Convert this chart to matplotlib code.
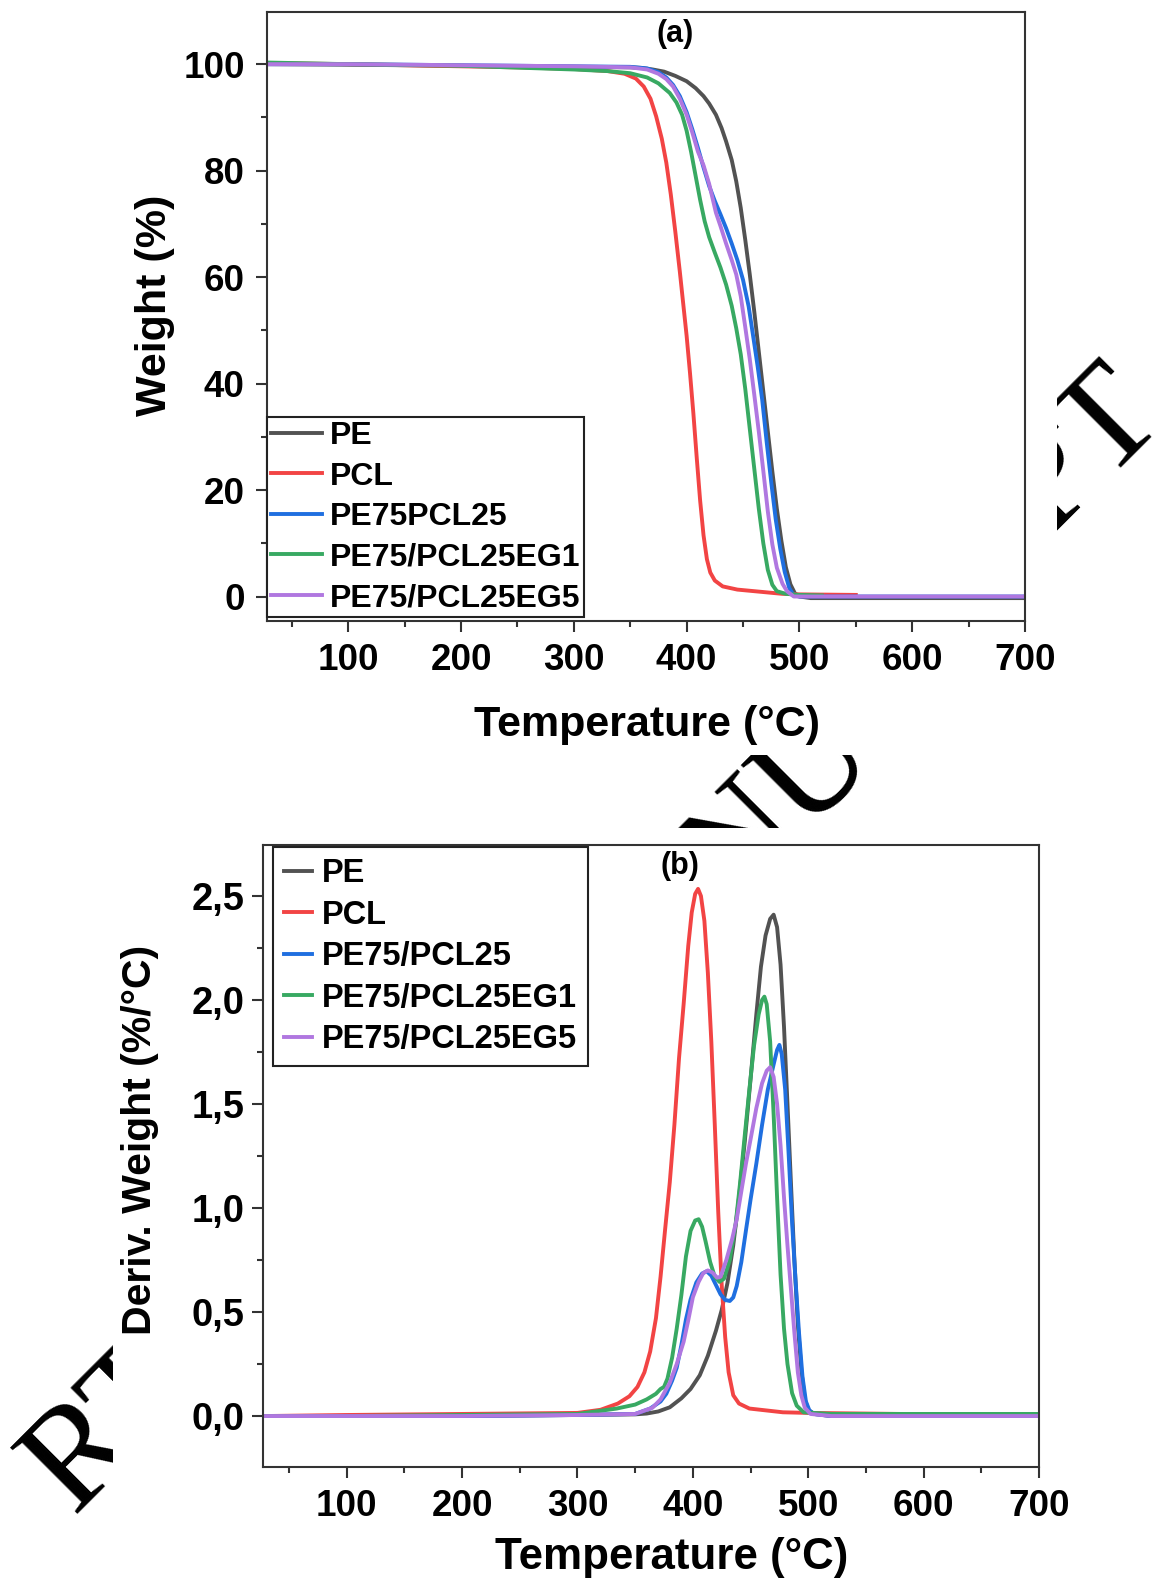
import matplotlib
matplotlib.use('Agg')
import matplotlib.pyplot as plt
from matplotlib.patches import Rectangle
from matplotlib.ticker import MultipleLocator, FuncFormatter

plt.rcParams['font.family'] = ['Liberation Sans', 'DejaVu Sans']
plt.rcParams['font.weight'] = 'bold'
plt.rcParams['axes.labelweight'] = 'bold'

# ---- legend labels / colours
labels_a = ['PE', 'PCL', 'PE75PCL25', 'PE75/PCL25EG1', 'PE75/PCL25EG5']
labels_b = ['PE', 'PCL', 'PE75/PCL25', 'PE75/PCL25EG1', 'PE75/PCL25EG5']
colors = ['#525252', '#f24444', '#1f6fe0', '#38a962', '#b077e0']

# ---- (a) TGA : weight (%) vs temperature (°C)
t_pe = [30, 100, 200, 300, 350, 360, 370, 380, 390, 400, 408, 415, 420, 426, 431, 435, 440, 444, 448,
        452, 456, 460, 464, 468, 472, 476, 480, 484, 488, 492, 496, 500, 510, 600, 700]
w_pe = [100.0, 99.9, 99.7, 99.5, 99.4, 99.3, 99.0, 98.6, 97.8, 96.8, 95.5, 94.0, 92.6, 90.5, 88.0, 85.5,
        82.0, 78.0, 73.0, 67.0, 60.5, 53.5, 46.0, 38.5, 31.0, 23.5, 16.5, 10.5, 5.5, 2.3, 0.6, 0.0, -0.3,
        -0.3, -0.3]

t_pcl = [30, 100, 200, 250, 300, 330, 345, 355, 362, 368, 373, 378, 382, 386, 390, 394, 397, 400, 403,
         406, 409, 412, 415, 418, 421, 425, 432, 445, 460, 485, 500, 550]
w_pcl = [100.2, 100.0, 99.6, 99.4, 99.1, 98.7, 98.2, 97.3, 95.8, 93.5, 90.2, 86.0, 81.5, 75.5, 68.5, 61.0,
         55.0, 49.0, 42.0, 34.4, 26.0, 18.0, 11.5, 7.0, 4.5, 3.0, 1.9, 1.3, 1.0, 0.5, 0.4, 0.3]

t_blend = [30, 100, 200, 300, 350, 365, 375, 382, 388, 394, 400, 405, 410, 415, 420, 425, 430, 435, 440,
           445, 450, 455, 459, 463, 467, 471, 475, 479, 483, 487, 491, 495, 500, 600, 700]
w_blend = [100.0, 100.0, 99.8, 99.6, 99.5, 99.2, 98.5, 97.5, 96.1, 94.0, 91.0, 87.8, 84.3, 80.6, 77.1,
           74.3, 71.8, 69.2, 66.3, 63.2, 59.5, 54.5, 48.9, 43.2, 37.0, 29.0, 21.5, 14.5, 9.0, 4.6, 1.6,
           0.2, 0.0, 0.0, 0.0]

t_eg1 = [30, 100, 200, 300, 330, 350, 365, 375, 385, 391, 396, 400, 404, 408, 412, 416, 420, 425, 430,
         435, 440, 444, 448, 452, 456, 460, 464, 468, 472, 476, 480, 488, 500, 520]
w_eg1 = [100.3, 100.0, 99.7, 99.0, 98.7, 98.3, 97.5, 96.4, 94.6, 92.8, 90.5, 87.5, 83.5, 79.0, 74.5, 70.5,
         67.5, 64.6, 61.8, 58.6, 54.6, 50.4, 45.5, 39.0, 31.5, 24.0, 16.5, 10.0, 5.0, 2.2, 1.0, 0.5, 0.3,
         0.2]

t_eg5 = [30, 100, 200, 300, 350, 365, 375, 382, 388, 394, 400, 405, 410, 415, 420, 426, 430, 435, 440,
         444, 448, 452, 456, 460, 464, 468, 472, 476, 480, 485, 489, 495, 520, 600, 700]
w_eg5 = [100.0, 100.0, 99.8, 99.6, 99.4, 99.0, 98.2, 97.2, 95.8, 93.5, 90.5, 87.2, 83.6, 81.0, 77.5, 72.1,
         69.6, 66.3, 63.2, 60.5, 56.4, 50.6, 44.6, 37.9, 31.0, 23.6, 16.0, 9.8, 5.4, 2.4, 1.0, 0.0, 0.0,
         0.0, 0.0]

# ---- (b) DTG : deriv. weight (%/°C) vs temperature (°C)
td_pe = [30, 100, 200, 300, 350, 360, 370, 380, 390, 398, 406, 413, 420, 425, 430, 435, 440, 445, 450,
         455, 459, 463, 467, 470, 473, 476, 479, 482, 485, 488, 491, 494, 497, 500, 505, 520, 600, 700]
d_pe = [0.0, 0.0, 0.0, 0.005, 0.008, 0.012, 0.022, 0.042, 0.085, 0.13, 0.196, 0.29, 0.41, 0.51, 0.64,
        0.82, 1.05, 1.32, 1.62, 1.93, 2.16, 2.31, 2.39, 2.41, 2.35, 2.17, 1.87, 1.50, 1.12, 0.75, 0.44,
        0.22, 0.08, 0.03, 0.01, 0.0, 0.0, 0.0]

td_pcl = [30, 100, 200, 300, 320, 335, 345, 352, 358, 363, 368, 372, 376, 380, 384, 388, 392, 396, 399,
          402, 404.5, 407, 410, 413, 416, 419, 422, 425, 428, 431, 435, 440, 449, 478, 500, 580]
d_pcl = [0.0, 0.005, 0.01, 0.015, 0.03, 0.06, 0.095, 0.14, 0.21, 0.31, 0.47, 0.67, 0.90, 1.124, 1.40,
         1.72, 1.98, 2.26, 2.42, 2.51, 2.534, 2.50, 2.38, 2.13, 1.80, 1.40, 0.98, 0.63, 0.38, 0.21, 0.10,
         0.06, 0.036, 0.018, 0.015, 0.01]

td_blend = [30, 100, 200, 300, 350, 363, 372, 377, 382, 386, 390, 394, 398, 403, 408, 412, 416, 420, 424,
            428, 432, 435, 438, 442, 446, 450, 455, 460, 465, 470, 473, 475, 477, 480, 483, 486, 489, 492,
            495, 498, 501, 505, 520, 600, 700]
d_blend = [0.0, 0.0, 0.0, 0.005, 0.01, 0.036, 0.07, 0.107, 0.17, 0.232, 0.34, 0.464, 0.56, 0.642, 0.685,
           0.696, 0.675, 0.63, 0.585, 0.558, 0.553, 0.57, 0.625, 0.74, 0.892, 1.04, 1.213, 1.40, 1.57, 1.69,
           1.76, 1.784, 1.74, 1.57, 1.26, 0.93, 0.65, 0.40, 0.19, 0.07, 0.027, 0.01, 0.0, 0.0, 0.0]

td_eg1 = [30, 100, 200, 300, 334, 350, 360, 368, 372, 375, 378, 382, 386, 390, 394, 398, 402, 405, 408,
          411, 415, 419, 423, 427, 432, 437, 441, 445, 449, 453, 457, 460, 462, 464, 467, 470, 473, 476,
          479, 482, 486, 490, 496, 520, 700]
d_eg1 = [0.0, 0.0, 0.005, 0.01, 0.036, 0.055, 0.08, 0.107, 0.13, 0.14, 0.18, 0.28, 0.42, 0.58, 0.767, 0.89,
         0.94, 0.946, 0.91, 0.84, 0.74, 0.67, 0.645, 0.66, 0.75, 0.92, 1.124, 1.35, 1.57, 1.78, 1.93, 2.00,
         2.016, 1.98, 1.80, 1.45, 1.05, 0.68, 0.42, 0.25, 0.11, 0.05, 0.018, 0.01, 0.01]

td_eg5 = [30, 100, 200, 300, 350, 365, 372, 380, 386, 392, 396, 400, 405, 409, 413, 417, 421, 424, 429,
          434, 438, 442, 446, 450, 455, 460, 464, 467, 470, 473, 476, 479, 482, 485, 488, 491, 494, 497,
          502, 520, 600, 700]
d_eg5 = [0.0, 0.0, 0.0, 0.005, 0.01, 0.04, 0.08, 0.16, 0.25, 0.357, 0.46, 0.571, 0.645, 0.687, 0.70, 0.69,
         0.665, 0.67, 0.75, 0.85, 0.946, 1.08, 1.213, 1.33, 1.48, 1.60, 1.66, 1.677, 1.63, 1.50, 1.30, 1.05,
         0.82, 0.61, 0.40, 0.21, 0.10, 0.04, 0.01, 0.0, 0.0, 0.0]

W, H = 1160, 1595


def px_box(x0, y0, x1, y1):
    """pixel box (top-left origin) -> figure fraction [l, b, w, h]"""
    return [x0 / W, 1 - y1 / H, (x1 - x0) / W, (y1 - y0) / H]


fig = plt.figure(figsize=(W / 100, H / 100), dpi=100)

# watermark pieces, mostly hidden behind the two white panel images
for txt, (cx, cy) in [('RT', (110, 1427)), ('NU', (782, 806)), ('PT', (1083, 452))]:
    fig.text(cx / W, 1 - cy / H, txt, rotation=45, ha='center', va='center',
             fontsize=104, family='Liberation Serif', fontweight='normal', zorder=-2)
for box in [(0, 0, 1057, 755), (113, 828, 1160, 1595)]:
    l, b, w, h = px_box(*box)
    fig.add_artist(Rectangle((l, b), w, h, transform=fig.transFigure,
                             facecolor='white', edgecolor='none', zorder=-1))

ax1 = fig.add_axes(px_box(267, 12, 1025, 621))
ax2 = fig.add_axes(px_box(262.5, 845, 1039, 1467))

series_a = [(t_pe, w_pe), (t_pcl, w_pcl), (t_blend, w_blend), (t_eg1, w_eg1), (t_eg5, w_eg5)]
series_b = [(td_pe, d_pe), (td_pcl, d_pcl), (td_blend, d_blend), (td_eg1, d_eg1), (td_eg5, d_eg5)]

for (x, y), c, lab in zip(series_a, colors, labels_a):
    ax1.plot(x, y, color=c, lw=2.8, label=lab)
for (x, y), c, lab in zip(series_b, colors, labels_b):
    ax2.plot(x, y, color=c, lw=2.8, label=lab)

ax1.set_xlim(28, 700)
ax1.set_ylim(-4.6, 109.8)
ax2.set_xlim(27, 700)
ax2.set_ylim(-0.245, 2.745)

for ax in (ax1, ax2):
    ax.set_facecolor('white')
    ax.xaxis.set_major_locator(MultipleLocator(100))
    ax.xaxis.set_minor_locator(MultipleLocator(50))
    for s in ax.spines.values():
        s.set_linewidth(1.5)
        s.set_color('#333333')
    ax.tick_params(which='both', direction='out', width=1.5, color='#333333',
                   top=False, right=False, labelsize=26.5)
    ax.tick_params(which='major', length=8)
    ax.tick_params(which='minor', length=4.5)

ax1.yaxis.set_major_locator(MultipleLocator(20))
ax1.yaxis.set_minor_locator(MultipleLocator(10))
ax2.yaxis.set_major_locator(MultipleLocator(0.5))
ax2.yaxis.set_minor_locator(MultipleLocator(0.25))
ax2.yaxis.set_major_formatter(FuncFormatter(lambda v, p: f'{v:.1f}'.replace('.', ',')))

ax1.tick_params(axis='y', pad=8)
ax1.tick_params(axis='x', pad=8)
ax2.tick_params(axis='y', pad=5, labelsize=27.5)
ax2.tick_params(axis='x', pad=8)

ax1.set_xlabel('Temperature (°C)', fontsize=31)
ax1.set_ylabel('Weight (%)', fontsize=31)
ax2.set_xlabel('Temperature (°C)', fontsize=31.6)
ax2.set_ylabel('Deriv. Weight (%/°C)', fontsize=29.5)
ax1.xaxis.set_label_coords(0.501, -0.170)
ax1.yaxis.set_label_coords(-0.148, 0.519)
ax2.xaxis.set_label_coords(0.527, -0.145)
ax2.yaxis.set_label_coords(-0.158, 0.526)
for ax in (ax1, ax2):
    for lab in (ax.xaxis.label, ax.yaxis.label):
        lab.set_va('center')
        lab.set_ha('center')

ax1.text(0.539, 0.9645, '(a)', transform=ax1.transAxes, ha='center', va='center', fontsize=22)
ax2.text(0.537, 0.966, '(b)', transform=ax2.transAxes, ha='center', va='center', fontsize=22)

leg1 = ax1.legend(loc='lower left', bbox_to_anchor=(0.0, 0.0066), borderaxespad=0,
                  fontsize=23, fancybox=False, framealpha=1, edgecolor='#222222',
                  handlelength=1.6, handletextpad=0.25, labelspacing=0.33, borderpad=0.12)
leg1.get_frame().set_linewidth(1.5)
leg2 = ax2.legend(loc='upper left', bbox_to_anchor=(0.013, 0.997), borderaxespad=0,
                  fontsize=23.5, fancybox=False, framealpha=1, edgecolor='#222222',
                  handlelength=0.85, handletextpad=0.3, labelspacing=0.32, borderpad=0.35)
leg2.get_frame().set_linewidth(1.5)

fig.savefig('out.png', dpi=100, facecolor='white')
